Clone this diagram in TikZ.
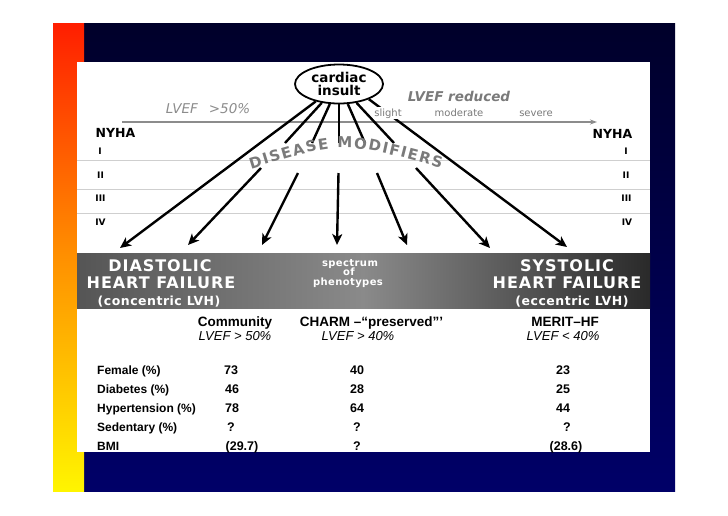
\documentclass[tikz,border=0pt]{standalone}
\usepackage{fontspec}
\setmainfont{Liberation Sans}
\newfontfamily\dv{DejaVu Sans}
\newfontfamily\wide[LetterSpace=4]{DejaVu Sans}
\newfontfamily\widebig[LetterSpace=6]{DejaVu Sans}
\usetikzlibrary{arrows.meta,decorations.text,shapes.geometric}
\definecolor{navytop}{HTML}{00002A}
\definecolor{navybot}{HTML}{000068}
\definecolor{stripred}{HTML}{FF1E00}
\definecolor{stripmid}{HTML}{FF9000}
\definecolor{stripyel}{HTML}{FFF500}
\definecolor{bandL}{HTML}{555555}
\definecolor{bandM}{HTML}{8A8A8A}
\definecolor{bandR}{HTML}{2A2A2A}
\definecolor{txtgray}{HTML}{7A7A7A}
\definecolor{ltgray}{HTML}{8C8C8C}
\definecolor{rowgray}{HTML}{CFCFCF}
\begin{document}
\begin{tikzpicture}[x=1pt,y=-1pt,
  fat/.style={line width=2.4pt, black},
  fatarr/.style={fat, -{Stealth[length=11pt,width=10pt,inset=3pt]}},
  rowline/.style={rowgray, line width=0.8pt},
  hline/.style={ltgray, line width=1.4pt, -{Stealth[length=7pt,width=5pt]}},
  band/.style={text=white, font=\widebig\bfseries\fontsize{16}{18}\selectfont, anchor=base, inner sep=0pt},
  bandsm/.style={text=white, font=\wide\bfseries\fontsize{12.5}{14}\selectfont, anchor=base, inner sep=0pt},
  bandtiny/.style={text=white, font=\wide\bfseries\fontsize{10}{11}\selectfont, anchor=base, inner sep=0pt},
  nyha/.style={font=\dv\bfseries\fontsize{12.5}{14}\selectfont, anchor=base, inner sep=0pt},
  roman/.style={font=\dv\bfseries\fontsize{9}{10}\selectfont, anchor=base, inner sep=0pt},
  sev/.style={txtgray, font=\dv\fontsize{10}{12}\selectfont, anchor=base, inner sep=1pt},
  head/.style={font=\bfseries\fontsize{13.5}{16}\selectfont, anchor=base, inner sep=0pt},
  sub/.style={font=\itshape\fontsize{13}{16}\selectfont, anchor=base, inner sep=0pt},
  lab/.style={font=\bfseries\fontsize{12}{14}\selectfont, anchor=base west, inner sep=0pt},
  val/.style={font=\bfseries\fontsize{12.5}{14}\selectfont, anchor=base, inner sep=0pt}
]
\useasboundingbox (0,0) rectangle (728,515);
\fill[white] (0,0) rectangle (728,515);
% slide background
\shade[top color=navytop, bottom color=navybot] (53,23) rectangle (675,491);
\shade[top color=stripred, bottom color=stripyel, middle color=stripmid] (53,23) rectangle (84,491);
\fill[white] (77,62) rectangle (650,452);
\begin{scope}
\clip (77,62) rectangle (650,452);
% grey band
\shade[left color=bandL, right color=bandR, middle color=bandM] (77,253) rectangle (650,308);
% NYHA row lines
\draw[rowline] (77,160) -- (650,160);
\draw[rowline] (77,189) -- (650,189);
\draw[rowline] (77,213) -- (650,213);
% LVEF axis
\coordinate (h0) at (122,122);
\coordinate (h1) at (597,122);
\draw[hline] (h0) -- (h1);
% cardiac insult
\node[ellipse, draw, line width=1.8pt, minimum width=88pt, minimum height=39pt, inner sep=0pt,
      align=center, font=\dv\bfseries\fontsize{13.5}{13.5}\selectfont] (ins) at (339,84) {cardiac\\insult};
% arrows
\coordinate (e1) at (120,248);
\coordinate (a2) at (285,143); \coordinate (b2) at (261,168); \coordinate (e2) at (188,245);
\coordinate (a3) at (312,143); \coordinate (b3) at (298,173); \coordinate (e3) at (262,245);
\coordinate (a4) at (339,143); \coordinate (b4) at (338.5,173); \coordinate (e4) at (337,245);
\coordinate (a5) at (365,143); \coordinate (b5) at (377,173); \coordinate (e5) at (407,245);
\coordinate (a6) at (394,143); \coordinate (b6) at (416,168); \coordinate (e6) at (490,248);
\coordinate (e7) at (567,247);
\draw[fatarr] (ins) -- (e1);
\draw[fat] (ins) -- (a2); \draw[fatarr] (b2) -- (e2);
\draw[fat] (ins) -- (a3); \draw[fatarr] (b3) -- (e3);
\draw[fat] (ins) -- (a4); \draw[fatarr] (b4) -- (e4);
\draw[fat] (ins) -- (a5); \draw[fatarr] (b5) -- (e5);
\draw[fat] (ins) -- (a6); \draw[fatarr] (b6) -- (e6);
\draw[fatarr] (ins.-27) -- (e7);
% LVEF labels
\node[ltgray, font=\dv\itshape\fontsize{13.5}{15}\selectfont, anchor=base, inner sep=0pt] (lv1) at (208,113) {LVEF\hspace{11pt}>50\%};
\node[txtgray, font=\dv\bfseries\itshape\fontsize{13.5}{15}\selectfont, anchor=base, inner sep=0pt] (lv2) at (459,101) {LVEF reduced};
\node[sev, fill=white] (sl) at (388,116) {slight};
\node[sev] (mo) at (459,116) {moderate};
\node[sev] (se) at (536,116) {severe};
% NYHA
\node[nyha] (nl) at (115.5,137.5) {NYHA};
\node[nyha] (nr) at (612.5,138.5) {NYHA};
\node[roman] (l1) at (100,154.3) {I};
\node[roman] (l2) at (100.5,178.3) {II};
\node[roman] (l3) at (100.5,201.7) {III};
\node[roman] (l4) at (100.5,225) {IV};
\node[roman] (r1) at (626,154.3) {I};
\node[roman] (r2) at (626,178.3) {II};
\node[roman] (r3) at (626.5,201.7) {III};
\node[roman] (r4) at (627,225) {IV};
% disease modifiers
\path[decorate, decoration={text along path, text color=txtgray,
   text={|\dv\bfseries\fontsize{15}{15}\selectfont|DISEASE MODIFIERS}, text align={fit to path}}]
   (251,169) .. controls (342,141) .. (441,168);
% band text
\node[band] (d1) at (160,271) {DIASTOLIC};
\node[band] (d2) at (161,288) {HEART FAILURE};
\node[bandsm] (d3) at (159,305.5) {(concentric LVH)};
\node[bandtiny] (p1) at (350,266) {spectrum};
\node[bandtiny] (p2) at (349,275.7) {of};
\node[bandtiny] (p3) at (348,285) {phenotypes};
\node[band] (s1) at (567,271) {SYSTOLIC};
\node[band] (s2) at (567,288) {HEART FAILURE};
\node[bandsm] (s3) at (572,305.5) {(eccentric LVH)};
% study headers
\node[head] (c1) at (235,326) {Community};
\node[sub] (c2) at (235,340) {LVEF > 50\%};
\node[head] (h2) at (371.5,326) {CHARM –“preserved”’};
\node[sub] (h3) at (358,340) {LVEF > 40\%};
\node[head] (m1) at (565,326) {MERIT–HF};
\node[sub] (m2) at (563,340) {LVEF < 40\%};
% table
\node[lab] (t1) at (97,374.3) {Female (\%)};
\node[lab] (t2) at (97,393.3) {Diabetes (\%)};
\node[lab] (t3) at (97,412.7) {Hypertension (\%)};
\node[lab] (t4) at (97,431.7) {Sedentary (\%)};
\node[lab] (t5) at (97,450) {BMI};
\node[val] (v11) at (231,374.3) {73};
\node[val] (v12) at (232,393.3) {46};
\node[val] (v13) at (232,412.7) {78};
\node[val] (v14) at (231,431.7) {?};
\node[val] (v15) at (242,450) {(29.7)};
\node[val] (v21) at (357,374.3) {40};
\node[val] (v22) at (357,393.3) {28};
\node[val] (v23) at (357,412.7) {64};
\node[val] (v24) at (357,431.7) {?};
\node[val] (v25) at (357,450) {?};
\node[val] (v31) at (563,374.3) {23};
\node[val] (v32) at (563,393.3) {25};
\node[val] (v33) at (563,412.7) {44};
\node[val] (v34) at (567,431.7) {?};
\node[val] (v35) at (566,450) {(28.6)};
\end{scope}
\end{tikzpicture}
\end{document}
